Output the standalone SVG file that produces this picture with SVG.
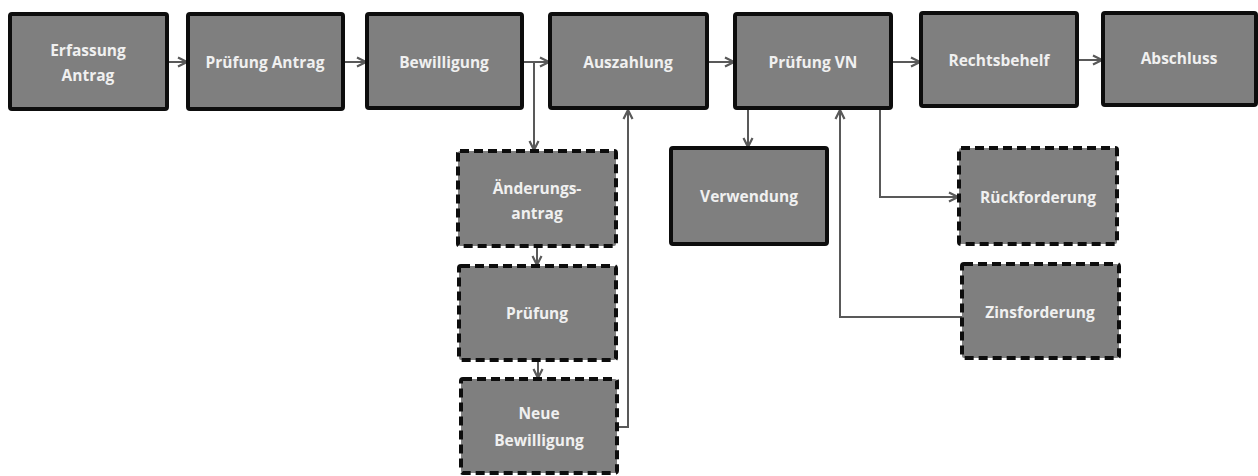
<svg xmlns="http://www.w3.org/2000/svg" width="1258" height="476" viewBox="0 0 1258 476">
<style>
.box{fill:#7f7f7f;stroke:#0d0d0d;stroke-width:4}
.dash{stroke-dasharray:9 5}
.lbl{font-family:"Open Sans","Liberation Sans",sans-serif;font-weight:bold;font-size:15.5px;fill:#f0f0f0;text-anchor:middle}
.con{fill:none;stroke:#595959;stroke-width:2}
</style>
<defs>
<marker id="arr" viewBox="0 0 12 12" refX="11" refY="6" markerWidth="12" markerHeight="12" markerUnits="userSpaceOnUse" orient="auto">
<path d="M2,1.5 L11,6 L2,10.5" fill="none" stroke="#595959" stroke-width="2.2"/>
</marker>
</defs>
<rect width="1258" height="476" fill="#fff"/>
<g id="connectors">
<path class="con" d="M167,62 H187" marker-end="url(#arr)"/>
<path class="con" d="M343,62 H366" marker-end="url(#arr)"/>
<path class="con" d="M523,62 H549" marker-end="url(#arr)"/>
<path class="con" d="M534,62 V150" marker-end="url(#arr)"/>
<path class="con" d="M708,62 H734" marker-end="url(#arr)"/>
<path class="con" d="M892,62 H920" marker-end="url(#arr)"/>
<path class="con" d="M1077,60 H1102" marker-end="url(#arr)"/>
<path class="con" d="M537,246 V265" marker-end="url(#arr)"/>
<path class="con" d="M538,360 V378" marker-end="url(#arr)"/>
<path class="con" d="M617,427 H628 V110" marker-end="url(#arr)"/>
<path class="con" d="M748,110 V147" marker-end="url(#arr)"/>
<path class="con" d="M880,110 V197 H958" marker-end="url(#arr)"/>
<path class="con" d="M962,317 H840 V110" marker-end="url(#arr)"/>
</g>
<g id="n1"><rect class="box" x="10" y="14" width="157" height="95" rx="2"/><text class="lbl" x="88" y="56">Erfassung</text><text class="lbl" x="88" y="81">Antrag</text></g>
<g id="n2"><rect class="box" x="188" y="14" width="155" height="95" rx="2"/><text class="lbl" x="265" y="68">Prüfung Antrag</text></g>
<g id="n3"><rect class="box" x="367" y="14" width="155" height="94" rx="2"/><text class="lbl" x="444" y="68">Bewilligung</text></g>
<g id="n4"><rect class="box" x="550" y="14" width="157" height="94" rx="2"/><text class="lbl" x="628" y="68">Auszahlung</text></g>
<g id="n5"><rect class="box" x="735" y="14" width="156" height="94" rx="2"/><text class="lbl" x="813" y="68">Prüfung VN</text></g>
<g id="n6"><rect class="box" x="921" y="13" width="156" height="93" rx="2"/><text class="lbl" x="999" y="66">Rechtsbehelf</text></g>
<g id="n7"><rect class="box" x="1103" y="13" width="153" height="92" rx="2"/><text class="lbl" x="1179" y="64">Abschluss</text></g>
<g id="n8"><rect class="box dash" x="458" y="151" width="158" height="95" rx="2"/><text class="lbl" x="537" y="194">Änderungs-</text><text class="lbl" x="537" y="219">antrag</text></g>
<g id="n9"><rect class="box dash" x="459" y="266" width="157" height="94" rx="2"/><text class="lbl" x="537" y="319">Prüfung</text></g>
<g id="n10"><rect class="box dash" x="461" y="379" width="156" height="94" rx="2"/><text class="lbl" x="539" y="419">Neue</text><text class="lbl" x="539" y="446">Bewilligung</text></g>
<g id="n11"><rect class="box" x="671" y="148" width="156" height="96" rx="2"/><text class="lbl" x="749" y="202">Verwendung</text></g>
<g id="n12"><rect class="box dash" x="959" y="148" width="158" height="96" rx="2"/><text class="lbl" x="1038" y="203">Rückforderung</text></g>
<g id="n13"><rect class="box dash" x="962" y="264" width="157" height="94" rx="2"/><text class="lbl" x="1040" y="318">Zinsforderung</text></g>
</svg>
